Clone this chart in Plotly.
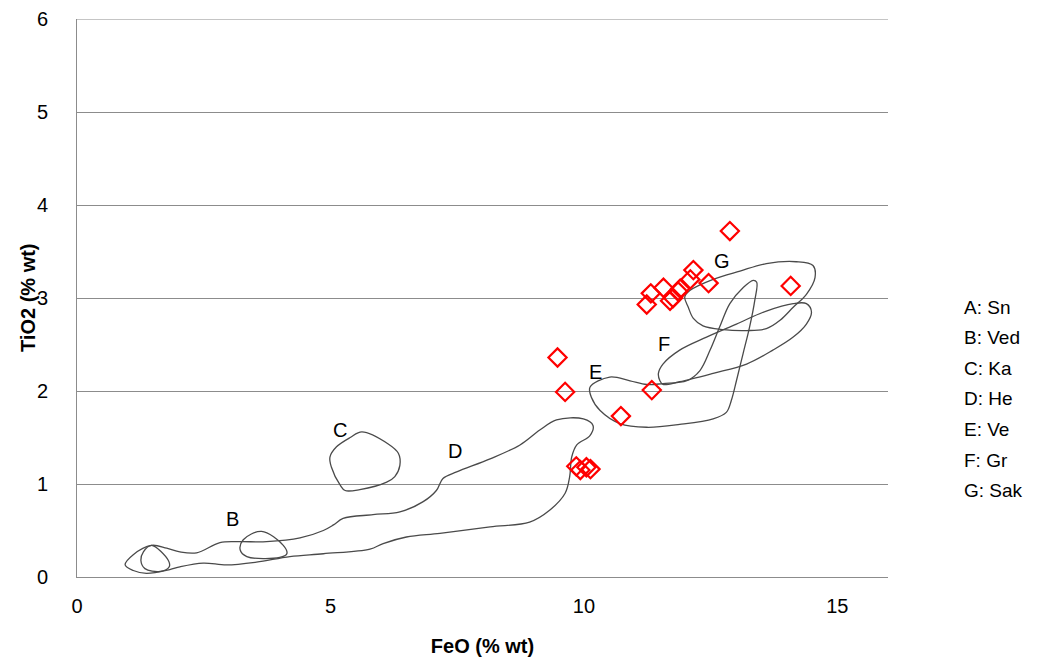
import plotly.graph_objects as go

# sample analyses (red diamonds)
feo = [12.88, 14.08, 12.16, 12.10, 12.46, 11.57, 11.32, 11.24, 11.70, 11.76,
       11.86, 11.90, 9.48, 9.63, 11.34, 10.73, 9.85, 9.93, 10.05, 10.13]
tio2 = [3.72, 3.13, 3.30, 3.20, 3.16, 3.11, 3.05, 2.93, 2.97, 3.00,
        3.07, 3.10, 2.36, 1.99, 2.01, 1.73, 1.19, 1.15, 1.18, 1.16]

# field outlines
field_a_x = [1.47, 1.80, 1.82, 1.64, 1.34, 1.26, 1.31]
field_a_y = [0.34, 0.18, 0.11, 0.06, 0.09, 0.18, 0.27]

field_b_x = [3.64, 4.07, 4.14, 4.00, 3.35, 3.22, 3.28]
field_b_y = [0.49, 0.34, 0.25, 0.21, 0.22, 0.29, 0.40]

field_c_x = [5.62, 6.14, 6.34, 6.37, 6.27, 6.11, 5.58, 5.29, 5.19, 5.02, 4.99, 5.12, 5.39]
field_c_y = [1.56, 1.43, 1.33, 1.20, 1.08, 1.02, 0.94, 0.93, 0.99, 1.18, 1.29, 1.40, 1.50]

field_d_x = [0.95, 1.11, 1.47, 1.77, 2.03, 2.36, 2.82, 3.21, 3.74, 4.40, 4.86, 5.06, 5.25,
             5.84, 6.37, 6.83, 7.09, 7.22, 7.49, 8.15, 8.74, 9.13, 9.46, 9.99, 10.18,
             10.12, 9.86, 9.76, 9.72, 9.63, 9.33, 8.93, 8.15, 7.16, 6.50, 6.04, 5.78,
             4.86, 4.20, 3.54, 2.95, 2.49, 2.03, 1.83, 1.37, 1.11]
field_d_y = [0.13, 0.24, 0.34, 0.31, 0.27, 0.26, 0.37, 0.38, 0.38, 0.42, 0.50, 0.56, 0.63,
             0.67, 0.70, 0.81, 0.93, 1.06, 1.13, 1.27, 1.42, 1.58, 1.69, 1.70, 1.63,
             1.52, 1.42, 1.29, 1.08, 0.90, 0.72, 0.59, 0.54, 0.47, 0.43, 0.36, 0.30,
             0.25, 0.22, 0.16, 0.13, 0.15, 0.11, 0.08, 0.04, 0.07]

field_e_x = [10.12, 10.51, 10.91, 11.24, 11.56, 12.03, 12.29, 12.49, 12.68, 12.88, 13.14,
             13.34, 13.41, 13.37, 13.27, 13.14, 13.01, 12.91, 12.81, 12.55, 11.89, 11.24,
             10.71, 10.32, 10.15]
field_e_y = [2.04, 2.15, 2.11, 2.07, 2.08, 2.11, 2.22, 2.44, 2.69, 2.94, 3.11,
             3.19, 3.17, 2.97, 2.69, 2.40, 2.11, 1.90, 1.77, 1.70, 1.64, 1.61,
             1.65, 1.79, 1.93]

field_f_x = [11.50, 11.47, 11.56, 11.89, 12.42, 13.01, 13.60, 14.13, 14.39, 14.49, 14.39,
             14.13, 13.73, 13.21, 12.55, 11.89, 11.56]
field_f_y = [2.11, 2.19, 2.29, 2.44, 2.58, 2.72, 2.86, 2.94, 2.94, 2.85, 2.72,
             2.58, 2.44, 2.29, 2.19, 2.10, 2.07]

field_g_x = [11.99, 12.09, 12.55, 13.08, 13.60, 14.19, 14.52, 14.56, 14.39, 14.13, 13.87,
             13.60, 13.21, 12.75, 12.35, 12.16, 12.06]
field_g_y = [3.01, 3.08, 3.20, 3.29, 3.37, 3.39, 3.35, 3.22, 3.04, 2.90, 2.76,
             2.67, 2.65, 2.66, 2.70, 2.78, 2.90]

# field letters placed in the plot
label_text = ["B", "C", "D", "E", "F", "G"]
label_x = [3.06, 5.19, 7.46, 10.22, 11.58, 12.72]
label_y = [0.62, 1.58, 1.35, 2.20, 2.51, 3.40]

key_lines = ["A: Sn", "B: Ved", "C: Ka", "D: He", "E: Ve", "F: Gr", "G: Sak"]

FONT = "Liberation Sans, Arial, sans-serif"
Y_MAX = 6

fig = go.Figure()

fields = [
    (field_a_x, field_a_y), (field_b_x, field_b_y), (field_c_x, field_c_y),
    (field_d_x, field_d_y), (field_e_x, field_e_y), (field_f_x, field_f_y),
    (field_g_x, field_g_y),
]
for fx, fy in fields:
    fig.add_trace(go.Scatter(
        x=fx + fx[:1], y=fy + fy[:1],
        mode="lines",
        line=dict(color="#4a4a4a", width=1.3, shape="spline", smoothing=1.0),
        hoverinfo="skip",
        showlegend=False,
    ))

fig.add_trace(go.Scatter(
    x=feo, y=tio2,
    mode="markers",
    marker=dict(symbol="diamond-open", size=14, color="red", line=dict(color="red", width=2.2)),
    showlegend=False,
))

annotations = []
for t, x, y in zip(label_text, label_x, label_y):
    annotations.append(dict(x=x, y=y, text=t, showarrow=False,
                            font=dict(size=20, color="black", family=FONT)))

# key on the right, one row every ~30.6 px (plot area is 558 px tall)
for i, line in enumerate(key_lines):
    annotations.append(dict(
        xref="paper", yref="paper",
        x=1.091, y=(577 - 307 - i * 30.6) / 558,
        text=line, showarrow=False, xanchor="left", yanchor="middle",
        font=dict(size=19, color="black", family=FONT),
    ))

# y axis title as an annotation so it can sit closer to the tick labels
annotations.append(dict(
    xref="paper", yref="paper", x=0, y=0.5, xshift=-49,
    text="<b>TiO2 (% wt)</b>", textangle=-90, showarrow=False,
    xanchor="center", yanchor="middle",
    font=dict(size=20, color="black", family=FONT),
))

# plotly drops the gridline sitting on the top edge, so draw it
fig.add_shape(type="line", xref="paper", yref="y", x0=0, x1=1, y0=Y_MAX, y1=Y_MAX,
              line=dict(color="#8c8c8c", width=1), layer="below")

# page body has an 8px margin, so the figure is 8px smaller each way
fig.update_layout(
    width=1037, height=651,
    margin=dict(l=69, r=157, t=11, b=82),
    plot_bgcolor="white", paper_bgcolor="white",
    font=dict(family=FONT, size=20, color="black"),
    annotations=annotations,
    xaxis=dict(
        range=[0, 16], tickvals=[0, 5, 10, 15],
        showgrid=False, zeroline=False, automargin=False,
        showline=True, linecolor="#8c8c8c", linewidth=1,
        ticks="", ticklabelstandoff=11, ticklabeloverflow="allow",
        title=dict(text="<b>FeO (% wt)</b>", font=dict(size=20), standoff=22),
    ),
    yaxis=dict(
        range=[0, Y_MAX], dtick=1,
        showgrid=True, gridcolor="#8c8c8c", gridwidth=1,
        zeroline=False, automargin=False,
        showline=True, linecolor="#8c8c8c", linewidth=1,
        ticks="", ticklabelstandoff=24, ticklabeloverflow="allow",
    ),
)

fig.write_html("out.html")
